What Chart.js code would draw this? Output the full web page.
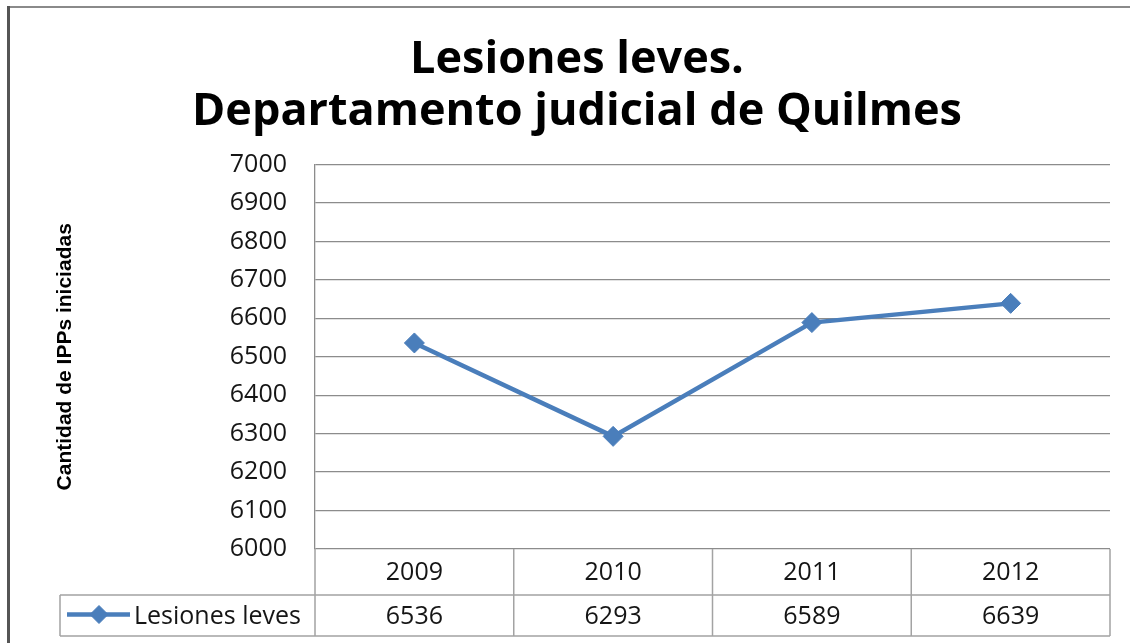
<!DOCTYPE html>
<html>
<head>
<meta charset="utf-8">
<title>Lesiones leves - Quilmes</title>
<script src="https://cdn.jsdelivr.net/npm/chart.js@4.4.0/dist/chart.umd.min.js"></script>
<style>
  html, body { margin: 0; padding: 0; background: #fff; }
  canvas { display: block; }
</style>
</head>
<body>
<canvas id="chart" width="1130" height="643"></canvas>
<script>
// data
const years = ['2009', '2010', '2011', '2012'];
const lesionesLeves = [6536, 6293, 6589, 6639];
const seriesName = 'Lesiones leves';
const yMin = 6000;
const yMax = 7000;
const yStep = 100;

const lineBlue = '#4a7ebb';
const gridGray = '#8c8c8c';
const tableGray = '#a3a3a3';
const textFont = '"Open Sans"';

// white background + the frame around the chart
const frame = {
  id: 'frame',
  beforeDraw(chart) {
    const ctx = chart.ctx;
    ctx.save();
    ctx.fillStyle = '#fff';
    ctx.fillRect(0, 0, chart.width, chart.height);
    ctx.strokeStyle = '#8a8a8a';
    ctx.lineWidth = 2;
    ctx.beginPath();
    ctx.moveTo(8, 7);
    ctx.lineTo(chart.width, 7);
    ctx.stroke();
    ctx.strokeStyle = '#555';
    ctx.lineWidth = 3;
    ctx.beginPath();
    ctx.moveTo(8.5, 6);
    ctx.lineTo(8.5, chart.height);
    ctx.stroke();
    ctx.restore();
  }
};

// title is centred a bit right of the canvas middle
const titleShift = {
  id: 'titleShift',
  afterLayout(chart) {
    const t = chart.titleBlock;
    if (t) {
      t.left = 44;
      t.right = 1110;
    }
  }
};

// data table under the plot (years row + values row with legend key)
const dataTable = {
  id: 'dataTable',
  afterDraw(chart) {
    const ctx = chart.ctx;
    const area = chart.chartArea;
    const xScale = chart.scales.x;
    const ds = chart.data.datasets[0];
    const labels = chart.data.labels;
    const colW = (area.right - area.left) / labels.length;
    const top = area.bottom;
    const mid = top + 46;
    const bot = mid + 41;
    const keyLeft = 60;

    ctx.save();
    ctx.strokeStyle = tableGray;
    ctx.lineWidth = 1.5;
    ctx.beginPath();
    ctx.moveTo(keyLeft, mid);
    ctx.lineTo(area.right, mid);
    ctx.moveTo(keyLeft, bot);
    ctx.lineTo(area.right, bot);
    ctx.moveTo(keyLeft, mid);
    ctx.lineTo(keyLeft, bot);
    for (let i = 0; i <= labels.length; i++) {
      const xx = area.left + i * colW;
      ctx.moveTo(xx, top);
      ctx.lineTo(xx, bot);
    }
    ctx.stroke();

    ctx.fillStyle = '#151515';
    ctx.font = '25px ' + textFont;
    ctx.textAlign = 'center';
    ctx.textBaseline = 'middle';
    for (let i = 0; i < labels.length; i++) {
      const cx = xScale.getPixelForValue(i);
      ctx.fillText(labels[i], cx, (top + mid) / 2 + 1);
      ctx.fillText(String(ds.data[i]), cx, (mid + bot) / 2 + 1);
    }

    // legend key
    const ky = (mid + bot) / 2 - 1;
    ctx.strokeStyle = ds.borderColor;
    ctx.lineWidth = ds.borderWidth;
    ctx.beginPath();
    ctx.moveTo(67, ky);
    ctx.lineTo(130, ky);
    ctx.stroke();
    ctx.fillStyle = ds.pointBackgroundColor;
    ctx.strokeStyle = ds.pointBorderColor;
    ctx.lineWidth = 1;
    Chart.helpers.drawPoint(ctx, { pointStyle: 'rectRot', radius: 9, borderWidth: 1 }, 99, ky);

    ctx.fillStyle = '#151515';
    ctx.textAlign = 'left';
    ctx.fillText(ds.label, 134, (mid + bot) / 2 + 1);
    ctx.restore();
  }
};

new Chart(document.getElementById('chart'), {
  type: 'line',
  data: {
    labels: years,
    datasets: [{
      label: seriesName,
      data: lesionesLeves,
      borderColor: lineBlue,
      borderWidth: 4.5,
      pointStyle: 'rectRot',
      pointRadius: 10,
      pointBackgroundColor: lineBlue,
      pointBorderColor: lineBlue,
      pointBorderWidth: 1,
      tension: 0
    }]
  },
  options: {
    responsive: false,
    animation: false,
    layout: { padding: { left: 12, right: 20, top: 0, bottom: 0 } },
    plugins: {
      legend: { display: false },
      tooltip: { enabled: false },
      title: {
        display: true,
        text: ['Lesiones leves.', 'Departamento judicial de Quilmes'],
        color: '#000',
        font: { family: textFont, size: 45, weight: 'bold', lineHeight: 1.14 },
        padding: { top: 35, bottom: 27 }
      }
    },
    scales: {
      x: {
        offset: true,
        ticks: { display: false },
        grid: { display: false },
        border: { display: false },
        afterFit(scale) { scale.height = 94; }
      },
      y: {
        min: yMin,
        max: yMax,
        ticks: {
          stepSize: yStep,
          color: '#151515',
          padding: 28,
          font: { family: textFont, size: 25 },
          callback: (v) => String(v)
        },
        grid: { color: gridGray, lineWidth: 1.3, drawTicks: false },
        border: { display: true, color: gridGray, width: 1.3 },
        title: {
          display: true,
          text: 'Cantidad de IPPs iniciadas',
          color: '#000',
          font: { family: '"Liberation Sans Narrow", "Liberation Sans"', size: 21, weight: 'bold' },
          padding: { top: 41, bottom: 0 }
        },
        afterFit(scale) { scale.width = 303; }
      }
    }
  },
  plugins: [frame, titleShift, dataTable]
});
</script>
</body>
</html>
